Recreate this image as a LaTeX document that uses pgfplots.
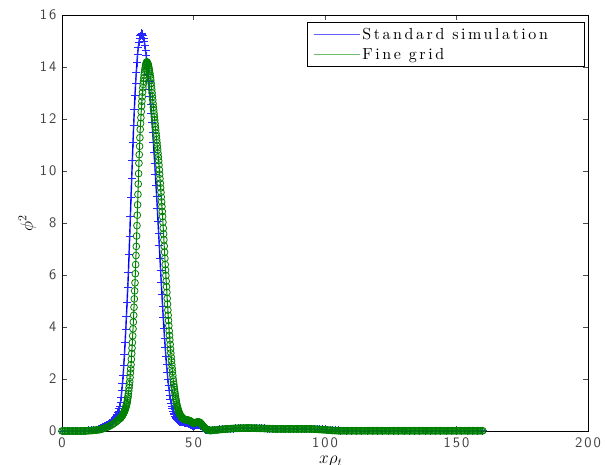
\documentclass[border=0pt]{standalone}
\usepackage{pgfplots}
\pgfplotsset{compat=1.18}
\usepackage{fontspec}
\newfontfamily\legfont{lmroman10-regular.otf}[LetterSpace=16]
\newfontfamily\tickfont{lmsans10-regular.otf}[LetterSpace=14]
\definecolor{mblue}{RGB}{0,0,255}
\definecolor{mgreen}{RGB}{0,128,0}
\definecolor{lblue}{RGB}{95,95,255}
\definecolor{lgreen}{RGB}{110,190,110}
\begin{document}
\begin{tikzpicture}
\useasboundingbox (-62pt,-34pt) rectangle (545pt,431pt);
\begin{axis}[
  at={(0,0)}, anchor=south west,
  scale only axis, width=526pt, height=416pt,
  xmin=0, xmax=200, ymin=0, ymax=16,
  xtick={0,50,...,200}, ytick={0,2,...,16},
  tick align=inside, major tick length=5pt,
  tick style={black!70, line width=0.6pt},
  axis line style={line width=0.8pt},
  /pgf/number format/assume math mode=true,
  ticklabel style={font=\fontsize{14.5}{16}\selectfont\tickfont, text=black!75},
  xticklabel style={yshift=-3pt},
  yticklabel style={xshift=-2pt},
  xlabel={$x\rho_t$},
  ylabel={$\phi^2$},
  label style={font=\fontsize{17}{19}\selectfont},
  xlabel style={at={(axis description cs:0.511,0)}, anchor=north, yshift=-22pt},
  ylabel style={at={(axis description cs:-0.066,0.5)}, anchor=center},
  legend style={at={(0.994,0.983)}, anchor=north east, draw=black, line width=0.8pt,
    font=\fontsize{16}{19}\selectfont\legfont, inner xsep=6pt, inner ysep=4pt, row sep=3pt},
  legend cell align=left,
]
\addplot[mblue, line width=1.4pt, mark=+, mark size=4pt, mark options={solid, line width=0.8pt, mblue!85},
  legend image code/.code={\draw[lblue, line width=1pt] (4pt,0pt) -- (50pt,0pt);}]
coordinates {
(0,0)(1,0)(2,0)(3,0)(4,0)(5,0)(6,0)(7,0)(8,0)(9,0.01)(10,0.02)(11,0.03)(12,0.04)(13,0.055)
(14.00,0.08)(14.25,0.09)(14.50,0.10)(14.75,0.11)(15.00,0.12)(15.25,0.13)(15.50,0.14)(15.75,0.155)
(16.00,0.17)(16.25,0.18)(16.50,0.195)(16.75,0.21)(17.00,0.225)(17.25,0.24)(17.50,0.255)(17.75,0.27)
(18.00,0.285)(18.25,0.30)(18.50,0.32)(18.75,0.35)(19.00,0.375)(19.25,0.40)(19.50,0.43)(19.75,0.46)
(20.00,0.49)(20.25,0.52)(20.50,0.56)(20.75,0.60)(21.00,0.65)(21.25,0.70)(21.50,0.77)(21.75,0.85)
(22.00,0.96)(22.25,1.10)(22.50,1.31)(22.75,1.55)(23.00,1.83)(23.25,2.15)(23.50,2.53)(23.75,2.95)
(24.00,3.41)(24.25,3.90)(24.50,4.42)(24.75,4.95)(25.00,5.51)(25.25,6.10)(25.50,6.79)(25.75,7.50)
(26.00,8.25)(26.25,9.00)(26.50,9.71)(26.75,10.40)(27.00,11.09)(27.25,11.75)(27.50,12.35)(27.75,12.90)
(28.00,13.38)(28.25,13.80)(28.50,14.17)(28.75,14.50)(29.00,14.75)(29.25,14.95)(29.50,15.09)(29.75,15.20)
(30.00,15.27)(30.25,15.30)(30.50,15.27)(30.75,15.20)(31.00,15.11)(31.25,15.00)(31.50,14.84)(31.75,14.65)
(32.00,14.44)(32.25,14.20)(32.50,13.96)(32.75,13.70)(33.00,13.43)(33.25,13.15)(33.50,12.86)(33.75,12.55)
(34.00,12.21)(34.25,11.85)(34.50,11.48)(34.75,11.10)(35.00,10.71)(35.25,10.30)(35.50,9.88)(35.75,9.45)
(36.00,9.01)(36.25,8.55)(36.50,8.08)(36.75,7.60)(37.00,7.13)(37.25,6.65)(37.50,6.17)(37.75,5.70)
(38.00,5.24)(38.25,4.80)(38.50,4.37)(38.75,3.95)(39.00,3.56)(39.25,3.20)(39.50,2.87)(39.75,2.55)
(40.00,2.27)(40.25,2.00)(40.50,1.76)(40.75,1.55)(41.00,1.37)(41.25,1.20)(41.50,1.07)(41.75,0.95)
(42.00,0.85)(42.25,0.76)(42.50,0.69)(42.75,0.62)(43.00,0.57)(43.25,0.52)(43.50,0.48)(43.75,0.45)
(44.00,0.42)(44.25,0.40)(44.50,0.38)(44.75,0.36)(45.00,0.35)(45.25,0.34)(45.50,0.335)(45.75,0.33)
(46.00,0.33)(46.25,0.33)(46.50,0.325)(46.75,0.32)(47.00,0.315)(47.25,0.31)(47.50,0.305)(47.75,0.30)
(48.00,0.29)(48.25,0.28)(48.50,0.265)(48.75,0.25)(49.00,0.235)(49.25,0.22)(49.50,0.21)(49.75,0.20)
(50.00,0.20)(50.25,0.20)(50.50,0.21)(50.75,0.22)(51.00,0.23)(51.25,0.24)(51.50,0.245)(51.75,0.25)
(52.00,0.245)(52.25,0.24)(52.50,0.22)(52.75,0.20)(53.00,0.175)(53.25,0.15)(53.50,0.125)(53.75,0.10)
(54.00,0.08)(54.25,0.06)(54.50,0.05)(54.75,0.04)(55.00,0.03)(55.25,0.02)(55.50,0.02)(55.75,0.02)(56.00,0.02)
(57,0.03)(58,0.04)(59,0.05)(60,0.06)(61,0.07)(62,0.08)(63,0.08)(64,0.09)(65,0.09)(66,0.1)(67,0.1)
(68,0.11)(69,0.11)(70,0.11)(71,0.11)(72,0.11)(73,0.11)(74,0.1)(75,0.1)(76,0.1)(77,0.1)(78,0.09)
(79,0.09)(80,0.09)(81,0.08)(82,0.08)(83,0.08)(84,0.08)(85,0.08)(86,0.08)(87,0.08)(88,0.08)(89,0.08)
(90,0.08)(91,0.08)(92,0.08)(93,0.08)(94,0.08)(95,0.08)(96,0.06)(97,0.06)(98,0.06)(99,0.06)(100,0.06)
(101,0.03)(102,0.03)(103,0.03)(104,0.03)(105,0.03)(106,0.01)(108,0.01)(110,0.01)(112,0.01)(114,0.01)
(116,0.01)(118,0.01)(120,0.01)(122,0.01)(124,0.01)(126,0.01)(128,0.01)(130,0.01)(132,0.01)(134,0.01)
(136,0.01)(138,0.01)(140,0.01)(142,0.01)(144,0.01)(146,0.01)(148,0.01)(150,0.01)(152,0.01)(154,0.01)
(156,0.01)(158,0.01)(160,0.01)
};
\addlegendentry{\makebox[214pt][l]{Standard simulation}}
\addplot[mgreen, line width=1pt, mark=o, mark size=3.4pt, mark options={solid, line width=0.8pt},
  legend image code/.code={\draw[lgreen, line width=1pt] (4pt,0pt) -- (50pt,0pt);}]
coordinates {
(0,0)(0.5,0)(1,0)(1.5,0)(2,0)(2.5,0)(3,0)(3.5,0)(4,0)(4.5,0)(5,0)(5.5,0)(6,0)(6.5,0)(7,0)(7.5,0)(8,0)
(8.5,0.003)(9,0.005)(9.5,0.008)(10,0.01)(10.5,0.014)(11,0.018)(11.5,0.022)(12,0.027)(12.5,0.032)
(13,0.037)(13.5,0.042)(14,0.047)(14.5,0.057)(15,0.07)(15.5,0.087)(16,0.102)(16.5,0.12)(17,0.14)
(17.5,0.162)(18,0.187)(18.5,0.215)(19,0.245)(19.5,0.275)(20,0.31)(20.5,0.35)(21,0.39)(21.5,0.43)
(22.0,0.48)(22.125,0.49)(22.25,0.50)(22.375,0.518)(22.5,0.535)(22.625,0.553)(22.75,0.57)(22.875,0.59)
(23.0,0.61)(23.125,0.63)(23.25,0.65)(23.375,0.678)(23.5,0.705)(23.625,0.733)(23.75,0.76)(23.875,0.795)
(24.0,0.83)(24.125,0.865)(24.25,0.90)(24.375,0.95)(24.5,1.00)(24.625,1.05)(24.75,1.10)(24.875,1.18)
(25.0,1.26)(25.125,1.34)(25.25,1.42)(25.375,1.54)(25.5,1.66)(25.625,1.78)(25.75,1.90)(25.875,2.06)
(26.0,2.23)(26.125,2.39)(26.25,2.55)(26.375,2.76)(26.5,2.98)(26.625,3.19)(26.75,3.40)(26.875,3.66)
(27.0,3.93)(27.125,4.19)(27.25,4.45)(27.375,4.76)(27.5,5.08)(27.625,5.39)(27.75,5.70)(27.875,6.05)
(28.0,6.40)(28.125,6.75)(28.25,7.10)(28.375,7.50)(28.5,7.90)(28.625,8.30)(28.75,8.70)(28.875,9.10)
(29.0,9.50)(29.125,9.90)(29.25,10.30)(29.375,10.63)(29.5,10.95)(29.625,11.28)(29.75,11.60)(29.875,11.83)
(30.0,12.05)(30.125,12.28)(30.25,12.50)(30.375,12.68)(30.5,12.85)(30.625,13.03)(30.75,13.20)(30.875,13.33)
(31.0,13.45)(31.125,13.58)(31.25,13.70)(31.375,13.79)(31.5,13.88)(31.625,13.96)(31.75,14.05)(31.875,14.09)
(32.0,14.13)(32.125,14.17)(32.25,14.20)(32.375,14.18)(32.5,14.15)(32.625,14.13)(32.75,14.10)(32.875,14.04)
(33.0,13.98)(33.125,13.91)(33.25,13.85)(33.375,13.76)(33.5,13.68)(33.625,13.59)(33.75,13.50)(33.875,13.38)
(34.0,13.25)(34.125,13.13)(34.25,13.00)(34.375,12.86)(34.5,12.73)(34.625,12.59)(34.75,12.45)(34.875,12.33)
(35.0,12.20)(35.125,12.08)(35.25,11.95)(35.375,11.83)(35.5,11.70)(35.625,11.58)(35.75,11.45)(35.875,11.33)
(36.0,11.20)(36.125,11.08)(36.25,10.95)(36.375,10.81)(36.5,10.68)(36.625,10.54)(36.75,10.40)(36.875,10.23)
(37.0,10.05)(37.125,9.88)(37.25,9.70)(37.375,9.53)(37.5,9.35)(37.625,9.18)(37.75,9.00)(37.875,8.81)
(38.0,8.63)(38.125,8.44)(38.25,8.25)(38.375,8.03)(38.5,7.80)(38.625,7.58)(38.75,7.35)(38.875,7.11)
(39.0,6.88)(39.125,6.64)(39.25,6.40)(39.375,6.19)(39.5,5.98)(39.625,5.76)(39.75,5.55)(39.875,5.33)
(40.0,5.10)(40.125,4.88)(40.25,4.65)(40.375,4.45)(40.5,4.25)(40.625,4.05)(40.75,3.85)(40.875,3.68)
(41.0,3.50)(41.125,3.33)(41.25,3.15)(41.375,3.00)(41.5,2.85)(41.625,2.70)(41.75,2.55)(41.875,2.41)
(42.0,2.28)(42.125,2.14)(42.25,2.00)(42.375,1.90)(42.5,1.80)(42.625,1.70)(42.75,1.60)(42.875,1.51)
(43.0,1.43)(43.125,1.34)(43.25,1.25)(43.375,1.18)(43.5,1.11)(43.625,1.04)(43.75,0.97)(43.875,0.92)
(44.0,0.88)(44.125,0.83)(44.25,0.78)(44.375,0.75)(44.5,0.72)(44.625,0.68)(44.75,0.65)(44.875,0.63)
(45.0,0.61)(45.125,0.58)(45.25,0.56)(45.375,0.55)(45.5,0.53)(45.625,0.52)(45.75,0.50)(45.875,0.49)
(46.0,0.48)(46.125,0.47)(46.25,0.46)
(46.5,0.45)(46.75,0.44)(47.0,0.435)(47.25,0.43)(47.5,0.425)(47.75,0.42)(48.0,0.415)(48.25,0.41)
(48.5,0.40)(48.75,0.39)(49.0,0.37)(49.25,0.35)(49.5,0.33)(49.75,0.31)(50.0,0.305)(50.25,0.30)
(50.5,0.31)(50.75,0.32)(51.0,0.33)(51.25,0.34)(51.5,0.345)(51.75,0.35)(52.0,0.345)(52.25,0.34)
(52.5,0.32)(52.75,0.30)(53.0,0.27)(53.25,0.24)(53.5,0.21)(53.75,0.18)(54.0,0.15)(54.25,0.12)
(54.5,0.10)(54.75,0.08)(55.0,0.065)(55.25,0.05)(55.5,0.04)(55.75,0.03)(56.0,0.025)(56.25,0.02)
(56.5,0.02)(56.75,0.02)(57.0,0.025)
(57.5,0.03)(58,0.035)(58.5,0.04)(59,0.045)(59.5,0.05)(60,0.055)(60.5,0.06)(61,0.065)(61.5,0.07)
(62,0.075)(62.5,0.08)(63,0.08)(63.5,0.085)(64,0.09)(64.5,0.09)(65,0.095)(65.5,0.1)(66,0.1)(66.5,0.1)
(67,0.105)(67.5,0.105)(68,0.11)(68.5,0.11)(69,0.11)(69.5,0.11)(70,0.115)(70.5,0.115)(71,0.115)
(71.5,0.115)(72,0.115)(72.5,0.11)(73,0.11)(73.5,0.11)(74,0.105)(74.5,0.105)(75,0.1)(75.5,0.1)(76,0.1)
(76.5,0.1)(77,0.095)(77.5,0.095)(78,0.09)(78.5,0.09)(79,0.09)(79.5,0.085)(80,0.085)
(80.5,0.08)(81,0.08)(81.5,0.08)(82,0.08)(82.5,0.08)(83,0.08)(83.5,0.08)(84,0.08)(84.5,0.08)(85,0.08)
(85.5,0.08)(86,0.08)(86.5,0.08)(87,0.08)(87.5,0.08)(88,0.08)(88.5,0.08)(89,0.08)(89.5,0.08)(90,0.08)
(90.5,0.08)(91,0.08)(91.5,0.08)(92,0.08)(92.5,0.08)(93,0.08)(93.5,0.08)(94,0.08)(94.5,0.08)(95,0.08)
(95.5,0.075)(96,0.07)(96.5,0.07)(97,0.065)(97.5,0.06)(98,0.06)(98.5,0.055)(99,0.05)(99.5,0.05)
(100,0.045)(100.5,0.04)(101,0.035)(101.5,0.03)(102,0.03)(102.5,0.025)(103,0.02)(103.5,0.02)
(104,0.015)(104.5,0.015)
(105,0.01)(105.5,0.01)(106,0.01)(106.5,0.01)(107,0.01)(107.5,0.01)(108,0.01)(108.5,0.01)(109,0.01)
(109.5,0.01)(110,0.01)(110.5,0.01)(111,0.01)(111.5,0.01)(112,0.01)(112.5,0.01)(113,0.01)(113.5,0.01)
(114,0.01)(114.5,0.01)(115,0.01)(115.5,0.01)(116,0.01)(116.5,0.01)(117,0.01)(117.5,0.01)(118,0.01)
(118.5,0.01)(119,0.01)(119.5,0.01)(120,0.01)(120.5,0.01)(121,0.01)(121.5,0.01)(122,0.01)(122.5,0.01)
(123,0.01)(123.5,0.01)(124,0.01)(124.5,0.01)(125,0.01)(125.5,0.01)(126,0.01)(126.5,0.01)(127,0.01)
(127.5,0.01)(128,0.01)(128.5,0.01)(129,0.01)(129.5,0.01)(130,0.01)(130.5,0.01)(131,0.01)(131.5,0.01)
(132,0.01)(132.5,0.01)(133,0.01)(133.5,0.01)(134,0.01)(134.5,0.01)(135,0.01)(135.5,0.01)(136,0.01)
(136.5,0.01)(137,0.01)(137.5,0.01)(138,0.01)(138.5,0.01)(139,0.01)(139.5,0.01)(140,0.01)(140.5,0.01)
(141,0.01)(141.5,0.01)(142,0.01)(142.5,0.01)(143,0.01)(143.5,0.01)(144,0.01)(144.5,0.01)(145,0.01)
(145.5,0.01)(146,0.01)(146.5,0.01)(147,0.01)(147.5,0.01)(148,0.01)(148.5,0.01)(149,0.01)(149.5,0.01)
(150,0.01)(150.5,0.01)(151,0.01)(151.5,0.01)(152,0.01)(152.5,0.01)(153,0.01)(153.5,0.01)(154,0.01)
(154.5,0.01)(155,0.01)(155.5,0.01)(156,0.01)(156.5,0.01)(157,0.01)(157.5,0.01)(158,0.01)(158.5,0.01)
(159,0.01)(159.5,0.01)(160,0.01)
};
\addlegendentry{\makebox[214pt][l]{Fine grid}}
\end{axis}
\end{tikzpicture}
\end{document}
